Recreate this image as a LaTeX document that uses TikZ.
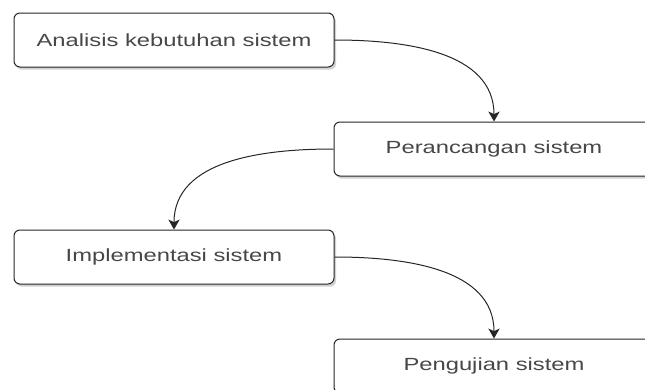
\documentclass[tikz,border=0pt]{standalone}
\usepackage{fontspec}
\setmainfont{Liberation Sans}
\usetikzlibrary{arrows.meta,shadows}
\newcommand{\wtext}[1]{\scalebox{1.35}[1]{#1}}

\tikzset{every picture/.style={line width=0.75pt}}
\tikzset{
  stepbox/.style={draw=black!85, fill=white, rounded corners=4.5pt, minimum width=240pt, minimum height=40.5pt, inner sep=0pt,
    text=black!72, font=\fontsize{13.2}{15}\selectfont,
    drop shadow={opacity=0.3, fill=black!60, shadow xshift=1.5pt, shadow yshift=-2pt}},
  flow/.style={draw=black!85, -{Stealth[length=7.5pt,width=8.5pt,inset=2pt]}}
}

\begin{document}
\begin{tikzpicture}[x=0.75pt,y=0.75pt,yscale=-1,xscale=1]
\useasboundingbox (0,0) rectangle (645,389);
\clip (0,0) rectangle (645,389);

% Boxes
\node [stepbox] (anl) at (174,40) {\wtext{Analisis kebutuhan sistem}};
\node [stepbox] (prc) at (494,149) {\wtext{Perancangan sistem}};
\node [stepbox] (imp) at (174,257) {\wtext{Implementasi sistem}};
\node [stepbox] (uji) at (494,366) {\wtext{Pengujian sistem}};

% Curved connectors
\draw [flow] (anl.east) to[out=0,in=-90] (prc.north);
\draw [flow] (prc.west) to[out=180,in=-90] (imp.north);
\draw [flow] (imp.east) to[out=0,in=-90] (uji.north);

\end{tikzpicture}
\end{document}
